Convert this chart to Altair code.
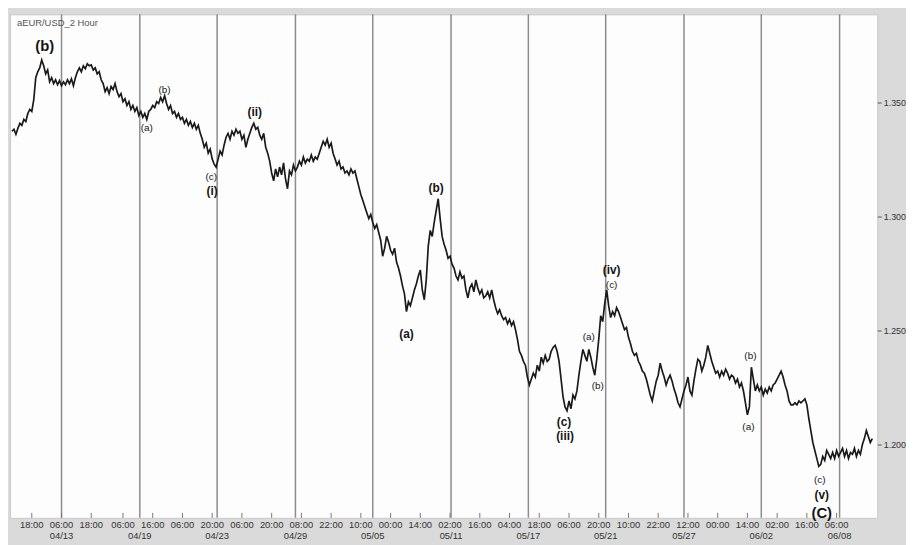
import altair as alt
import pandas as pd

# EUR/USD 2-hour closes, one value per sample bar
prices = [
    1.3374, 1.3383, 1.3361, 1.3387, 1.3409, 1.3400, 1.3426, 1.3417, 1.3452, 1.3470,
    1.3461, 1.3513, 1.3609, 1.3635, 1.3652, 1.3687, 1.3661, 1.3626, 1.3643, 1.3591,
    1.3609, 1.3583, 1.3600, 1.3578, 1.3596, 1.3574, 1.3591, 1.3578, 1.3600, 1.3583,
    1.3604, 1.3574, 1.3609, 1.3635, 1.3652, 1.3635, 1.3661, 1.3648, 1.3670, 1.3661,
    1.3665, 1.3643, 1.3652, 1.3626, 1.3635, 1.3600, 1.3583, 1.3548, 1.3565, 1.3539,
    1.3570, 1.3557, 1.3583, 1.3548, 1.3526, 1.3539, 1.3504, 1.3517, 1.3487, 1.3504,
    1.3470, 1.3487, 1.3461, 1.3478, 1.3443, 1.3461, 1.3435, 1.3452, 1.3426, 1.3461,
    1.3470, 1.3487, 1.3478, 1.3504, 1.3496, 1.3522, 1.3504, 1.3530, 1.3496, 1.3470,
    1.3487, 1.3452, 1.3461, 1.3435, 1.3452, 1.3426, 1.3435, 1.3409, 1.3426, 1.3400,
    1.3417, 1.3391, 1.3409, 1.3383, 1.3400, 1.3365, 1.3339, 1.3304, 1.3322, 1.3278,
    1.3296, 1.3252, 1.3230, 1.3217, 1.3252, 1.3287, 1.3270, 1.3313, 1.3348, 1.3365,
    1.3339, 1.3374, 1.3357, 1.3383, 1.3365, 1.3374, 1.3339, 1.3357, 1.3304, 1.3339,
    1.3365, 1.3391, 1.3409, 1.3383, 1.3391, 1.3357, 1.3339, 1.3365, 1.3304, 1.3278,
    1.3243, 1.3191, 1.3157, 1.3209, 1.3174, 1.3217, 1.3183, 1.3235, 1.3165, 1.3122,
    1.3200, 1.3183, 1.3226, 1.3200, 1.3217, 1.3243, 1.3226, 1.3261, 1.3235, 1.3252,
    1.3243, 1.3270, 1.3243, 1.3261, 1.3252, 1.3278, 1.3304, 1.3330, 1.3313, 1.3339,
    1.3304, 1.3322, 1.3278, 1.3252, 1.3226, 1.3243, 1.3209, 1.3217, 1.3191, 1.3200,
    1.3183, 1.3209, 1.3191, 1.3200, 1.3165, 1.3130, 1.3096, 1.3070, 1.3043, 1.3017,
    1.2991, 1.3009, 1.2974, 1.2948, 1.2965, 1.2930, 1.2896, 1.2826, 1.2861, 1.2913,
    1.2887, 1.2852, 1.2835, 1.2861, 1.2800, 1.2774, 1.2739, 1.2696, 1.2661, 1.2583,
    1.2626, 1.2609, 1.2643, 1.2678, 1.2704, 1.2739, 1.2765, 1.2678, 1.2635, 1.2722,
    1.2870, 1.2939, 1.2913, 1.2974, 1.3026, 1.3078, 1.2991, 1.2913, 1.2878, 1.2852,
    1.2817, 1.2826, 1.2791, 1.2774, 1.2739, 1.2722, 1.2757, 1.2730, 1.2739, 1.2678,
    1.2643, 1.2687, 1.2704, 1.2670, 1.2722, 1.2687, 1.2661, 1.2678, 1.2643, 1.2652,
    1.2670, 1.2643, 1.2678, 1.2635, 1.2600, 1.2574, 1.2591, 1.2565, 1.2548, 1.2557,
    1.2530, 1.2548, 1.2522, 1.2539, 1.2504, 1.2461, 1.2409, 1.2391, 1.2365, 1.2348,
    1.2296, 1.2261, 1.2287, 1.2313, 1.2296, 1.2348, 1.2322, 1.2383, 1.2357, 1.2391,
    1.2365, 1.2374, 1.2409, 1.2426, 1.2435, 1.2409, 1.2365, 1.2287, 1.2209, 1.2165,
    1.2148, 1.2191, 1.2157, 1.2217, 1.2200, 1.2235, 1.2304, 1.2365, 1.2417, 1.2391,
    1.2365, 1.2417, 1.2383, 1.2339, 1.2304, 1.2374, 1.2461, 1.2565, 1.2539, 1.2617,
    1.2678, 1.2609, 1.2557, 1.2583, 1.2565, 1.2600, 1.2583, 1.2557, 1.2530, 1.2504,
    1.2513, 1.2470, 1.2443, 1.2409, 1.2391, 1.2400, 1.2365, 1.2348, 1.2322, 1.2313,
    1.2287, 1.2252, 1.2217, 1.2191, 1.2235, 1.2278, 1.2304, 1.2357, 1.2322, 1.2296,
    1.2261, 1.2287, 1.2304, 1.2278, 1.2243, 1.2217, 1.2183, 1.2165, 1.2200, 1.2235,
    1.2261, 1.2296, 1.2235, 1.2217, 1.2278, 1.2330, 1.2374, 1.2365, 1.2322, 1.2348,
    1.2383, 1.2435, 1.2400, 1.2365, 1.2339, 1.2313, 1.2322, 1.2296, 1.2322, 1.2304,
    1.2330, 1.2313, 1.2287, 1.2304, 1.2296, 1.2270, 1.2287, 1.2252, 1.2270, 1.2235,
    1.2183, 1.2130, 1.2165, 1.2339, 1.2287, 1.2235, 1.2261, 1.2235, 1.2252, 1.2217,
    1.2243, 1.2226, 1.2252, 1.2235, 1.2261, 1.2270, 1.2287, 1.2304, 1.2322, 1.2296,
    1.2261, 1.2235, 1.2191, 1.2174, 1.2174, 1.2183, 1.2174, 1.2191, 1.2183, 1.2191,
    1.2200, 1.2174, 1.2113, 1.2061, 1.2009, 1.1974, 1.1939, 1.1904, 1.1913, 1.1948,
    1.1930, 1.1974, 1.1957, 1.1939, 1.1965, 1.1939, 1.1974, 1.1948, 1.1965, 1.1983,
    1.1948, 1.1974, 1.1939, 1.1965, 1.1957, 1.1983, 1.1948, 1.1974, 1.1957, 1.2000,
    1.2026, 1.2061, 1.2035, 1.2009, 1.2026,
]

# vertical session separators (bar position) and their date labels
grid_bars = [25, 64.5, 103.5, 143, 182, 221.5, 260.5, 299.5, 339, 378, 417.5]
grid_dates = ["04/13", "04/19", "04/23", "04/29", "05/05", "05/11",
              "05/17", "05/21", "05/27", "06/02", "06/08"]

# time tick labels along the x axis
tick_bars = [10, 25, 40, 56, 71, 86, 101, 116, 131, 146, 161, 176, 191, 206,
             221, 236, 251, 266, 281, 296, 311, 326, 341, 356, 371, 386, 401, 416]
tick_labels = ["18:00", "06:00", "18:00", "06:00", "16:00", "06:00", "20:00",
               "06:00", "20:00", "08:00", "22:00", "10:00", "00:00", "14:00",
               "02:00", "16:00", "04:00", "18:00", "06:00", "20:00", "10:00",
               "22:00", "12:00", "00:00", "14:00", "02:00", "16:00", "06:00"]

price_ticks = [1.20, 1.25, 1.30, 1.35]

# Elliott wave labels
wave_text = ["(b)", "(a)", "(b)", "(c)", "(i)", "(ii)", "(a)", "(b)", "(c)",
             "(iii)", "(a)", "(b)", "(iv)", "(c)", "(b)", "(a)", "(c)", "(v)", "(C)"]
wave_bar = [16.5, 68, 77, 100.5, 101, 122.5, 199, 214, 278.5,
            279, 291, 295.5, 302.5, 302.5, 372.5, 371.5, 407.5, 408.5, 408.5]
wave_price = [1.3748, 1.3387, 1.3557, 1.3174, 1.3113, 1.3457, 1.2483, 1.3126, 1.2099,
              1.2039, 1.2470, 1.2257, 1.2765, 1.2700, 1.2387, 1.2078, 1.1843, 1.1778, 1.1700]
wave_degree = ["primary", "minor", "minor", "minor", "intermediate", "intermediate",
               "intermediate", "intermediate", "intermediate", "intermediate",
               "minor", "minor", "intermediate", "minor", "minor", "minor",
               "minor", "intermediate", "primary"]

df = pd.DataFrame({"bar": list(range(len(prices))), "price": prices})
grid_df = pd.DataFrame({"bar": grid_bars, "date": grid_dates})
tick_df = pd.DataFrame({"bar": tick_bars, "label": tick_labels})
wave_df = pd.DataFrame({"bar": wave_bar, "price": wave_price,
                        "label": wave_text, "degree": wave_degree})

FONT = "Liberation Sans"
x_scale = alt.Scale(domain=[-1, 436.5], nice=False, zero=False)
y_scale = alt.Scale(domain=[1.16783, 1.38870], nice=False, zero=False)

x_axis = alt.Axis(labels=False, ticks=False, domain=False, grid=False, title=None)
y_axis = alt.Axis(orient="right", values=price_ticks, format=".3f", tickSize=4,
                  tickColor="#555555", labelFontSize=9, labelFont=FONT,
                  labelColor="#333333", labelPadding=2, domain=False,
                  grid=False, title=None)

x_enc = alt.X("bar:Q", scale=x_scale, axis=x_axis)
y_enc = alt.Y("price:Q", scale=y_scale, axis=y_axis)

rules = alt.Chart(grid_df).mark_rule(color="#8c8c8c", strokeWidth=1.5).encode(x=x_enc)

# small tick marks inside the bottom edge of the plot
tick_marks = alt.Chart(tick_df).mark_rule(color="#777777", strokeWidth=1).encode(
    x=x_enc, y=alt.value(503), y2=alt.value(508))

line = alt.Chart(df).mark_line(color="#1a1a1a", strokeWidth=1.7).encode(x=x_enc, y=y_enc)

time_text = alt.Chart(tick_df).mark_text(
    font=FONT, fontSize=9.5, color="#333333", baseline="middle", align="center"
).encode(x=x_enc, y=alt.value(515), text="label:N")

date_text = alt.Chart(grid_df).mark_text(
    font=FONT, fontSize=9.5, color="#333333", baseline="middle", align="center"
).encode(x=x_enc, y=alt.value(526), text="date:N")

title_text = alt.Chart(tick_df.head(1)).mark_text(
    font=FONT, fontSize=9.5, color="#555555", baseline="middle", align="left",
    text="aEUR/USD_2 Hour"
).encode(x=alt.value(7), y=alt.value(9))

def wave_layer(degree, size, weight):
    return alt.Chart(wave_df).transform_filter(
        alt.datum.degree == degree
    ).mark_text(font=FONT, fontSize=size, fontWeight=weight, color="#151515",
                baseline="middle", align="center").encode(
        x=x_enc, y=y_enc, text="label:N")

waves = (wave_layer("primary", 15, "bold")
         + wave_layer("intermediate", 12, "bold")
         + wave_layer("minor", 10, "normal"))

chart = alt.layer(rules, tick_marks, line, time_text, date_text, title_text, waves).properties(
    width=875, height=508,
    autosize=alt.AutoSizeParams(type="none"),
    padding={"left": 2, "top": 4, "right": 29, "bottom": 25},
    background="#dadada",
).configure_view(fill="#fdfdfd", stroke="#c8c8c8")

chart.save("out.html", embed_options={"renderer": "svg", "actions": False})
